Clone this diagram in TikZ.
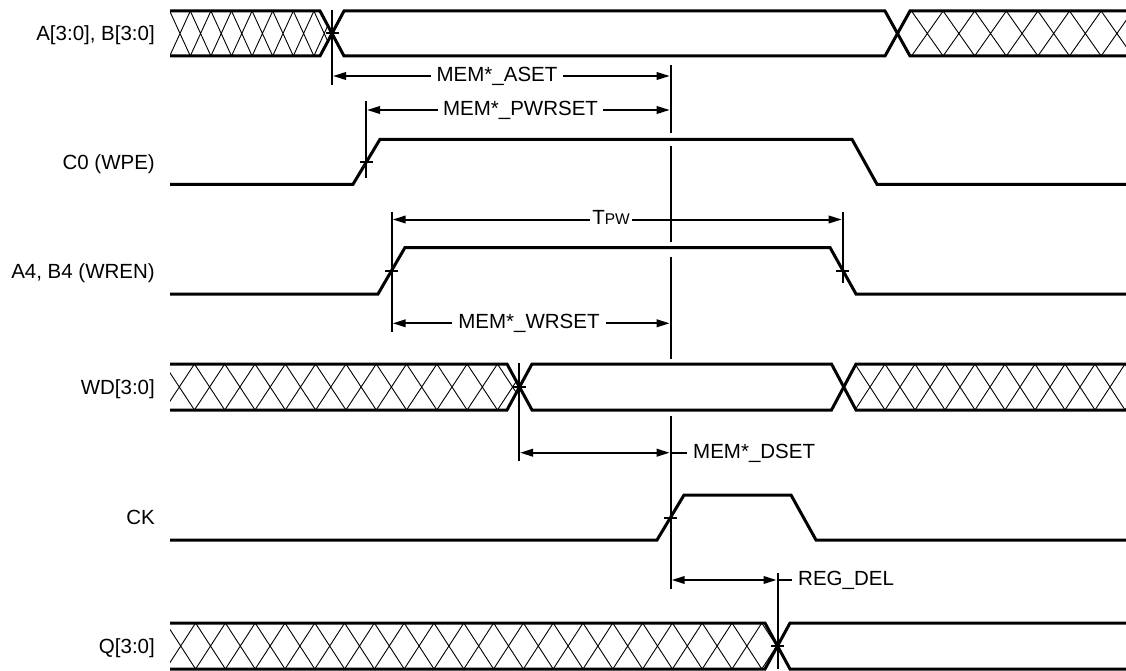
\documentclass[tikz,border=0pt]{standalone}
\usepackage{fontspec}
\setmainfont{Liberation Sans}
\usetikzlibrary{arrows.meta}
% #1 phase (x of first vertex), #2 period, #3 top y, #4 bottom y, #5 last index
\newcommand\myhatch[5]{%
  \foreach \k in {0,...,#5}{%
    \draw[hatchl] ({#1+\k*#2},#3) -- ({#1+(\k+1)*#2},#4)
                  ({#1+\k*#2},#4) -- ({#1+(\k+1)*#2},#3);
  }%
}
\begin{document}
\begin{tikzpicture}[x=1pt,y=-1pt,
  sigl/.style={line width=3pt},
  hatchl/.style={line width=0.9pt},
  vline/.style={line width=2pt},
  tickl/.style={line width=2pt},
  dimarr/.style={line width=2pt,{Triangle[length=13pt,width=7.5pt]}-{Triangle[length=13pt,width=7.5pt]}},
  thinl/.style={line width=2pt},
  lbl/.style={font=\fontsize{20.5}{24}\selectfont, text height=14.7pt, text depth=0pt, inner sep=0pt},
  dimlbl/.style={lbl, fill=white, inner xsep=5pt, inner ysep=1pt}
]
\useasboundingbox (0,0) rectangle (1126,671);

% ---------- signal names ----------
\node[lbl, anchor=east] (nA)  at (155,33.5)  {A[3:0], B[3:0]};
\node[lbl, anchor=east] (nC0) at (155,161.8) {C0 (WPE)};
\node[lbl, anchor=east] (nW)  at (155,271)   {A4, B4 (WREN)};
\node[lbl, anchor=east] (nWD) at (155,387)   {WD[3:0]};
\node[lbl, anchor=east] (nCK) at (155,517.5) {CK};
\node[lbl, anchor=east] (nQ)  at (155,646)   {Q[3:0]};

% ---------- hatching ----------
\begin{scope}
  \clip (170,11) -- (320,11) -- (332,33.5) -- (320,56) -- (170,56) -- cycle;
  \myhatch{169.7}{20.6}{11}{56}{8}
\end{scope}
\begin{scope}
  \clip (897.5,33.5) -- (910,11) -- (1130,11) -- (1130,56) -- (910,56) -- cycle;
  \myhatch{911.5}{31.6}{11}{56}{7}
\end{scope}
\begin{scope}
  \clip (170,364) -- (507,364) -- (519.5,387) -- (507,410) -- (170,410) -- cycle;
  \myhatch{164.15}{30.3}{364}{410}{12}
\end{scope}
\begin{scope}
  \clip (843.75,387) -- (856,364) -- (1130,364) -- (1130,410) -- (856,410) -- cycle;
  \myhatch{855}{30}{364}{410}{9}
\end{scope}
\begin{scope}
  \clip (170,623) -- (765,623) -- (777.5,646) -- (765,669) -- (170,669) -- cycle;
  \myhatch{165.8}{29.8}{623}{669}{21}
\end{scope}

% ---------- waveforms ----------
\draw[sigl] (170,11) -- (320,11) -- (344,56) -- (885,56) -- (910,11) -- (1130,11);
\draw[sigl] (170,56) -- (320,56) -- (344,11) -- (885,11) -- (910,56) -- (1130,56);

\draw[sigl] (170,184.3) -- (353,184.3) -- (380,139.3) -- (852,139.3) -- (877,184.3) -- (1130,184.3);

\draw[sigl] (170,294) -- (378,294) -- (405,247.5) -- (830,247.5) -- (856,294) -- (1130,294);

\draw[sigl] (170,364) -- (507,364) -- (532,410) -- (831.5,410) -- (856,364) -- (1130,364);
\draw[sigl] (170,410) -- (507,410) -- (532,364) -- (831.5,364) -- (856,410) -- (1130,410);

\draw[sigl] (170,540) -- (657,540) -- (684,495) -- (791,495) -- (816,540) -- (1130,540);

\draw[sigl] (170,623) -- (765,623) -- (790,669) -- (1130,669);
\draw[sigl] (170,669) -- (765,669) -- (790,623) -- (1130,623);

% ---------- reference verticals ----------
\draw[vline] (332,10) -- (332,85);
\draw[vline] (366,101) -- (366,178);
\draw[vline] (391.7,211.7) -- (391.7,331.7);
\draw[vline] (842.7,211.7) -- (842.7,283.3);
\draw[vline] (519,363) -- (519,461);
\draw[vline] (777.5,573) -- (777.5,669);
\draw[vline] (670.7,65) -- (670.7,132.7)
             (670.7,146) -- (670.7,241.7)
             (670.7,256.7) -- (670.7,359)
             (670.7,416) -- (670.7,589);

% ---------- crossing ticks ----------
\draw[tickl] (325.5,33.5) -- (338.5,33.5);
\draw[tickl] (359.5,162.5) -- (372.5,162.5);
\draw[tickl] (385.2,270.5) -- (398.2,270.5);
\draw[tickl] (836.2,270.5) -- (849.2,270.5);
\draw[tickl] (512.5,387) -- (525.5,387);
\draw[tickl] (664.2,517.5) -- (677.2,517.5);
\draw[tickl] (771,646) -- (784,646);

% ---------- dimension arrows ----------
\coordinate (asetL) at (333,76);   \coordinate (asetR) at (669.7,76);
\coordinate (pwrL)  at (367,110);  \coordinate (pwrR)  at (669.7,110);
\coordinate (tpwL)  at (392.7,219.5); \coordinate (tpwR) at (841.7,219.5);
\coordinate (wrL)   at (392.7,323.3); \coordinate (wrR)  at (669.7,323.3);
\coordinate (dsL)   at (520,452.7);   \coordinate (dsR)  at (669.7,452.7);
\coordinate (dsT)   at (686.7,452.7);
\coordinate (rgL)   at (671.7,580);   \coordinate (rgR)  at (776.5,580);
\coordinate (rgT)   at (792,580);

\draw[dimarr] (asetL) -- (asetR);
\draw[dimarr] (pwrL) -- (pwrR);
\draw[dimarr] (tpwL) -- (tpwR);
\draw[dimarr] (wrL) -- (wrR);
\draw[dimarr] (dsL) -- (dsR);
\draw[thinl] (dsR) -- (dsT);
\draw[dimarr] (rgL) -- (rgR);
\draw[thinl] (rgR) -- (rgT);

\node[dimlbl, inner xsep=6pt] (laset) at (497,74) {MEM*\_ASET};
\node[dimlbl] (lpwr) at (520.5,108) {MEM*\_PWRSET};
\node[dimlbl, inner xsep=2pt] (ltpw) at (611,217.5) {T{\fontsize{15.5}{18}\selectfont PW}};
\node[dimlbl, inner xsep=6pt] (lwr) at (529,321.3) {MEM*\_WRSET};
\node[lbl, anchor=west] (lds) at (693,450.7) {MEM*\_DSET};
\node[lbl, anchor=west] (lrg) at (798,578) {REG\_DEL};

\end{tikzpicture}
\end{document}
